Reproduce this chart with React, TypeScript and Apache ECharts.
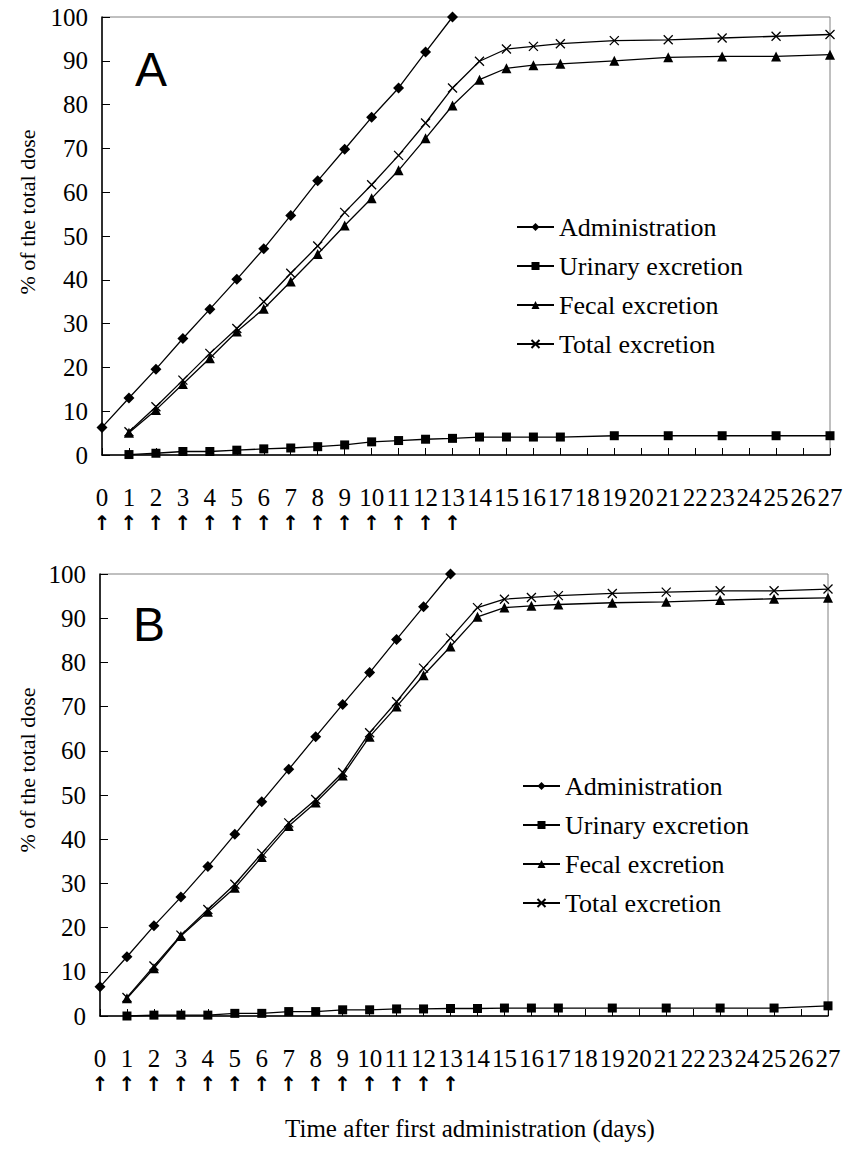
import React, { useEffect, useRef } from "react";
import * as echarts from "echarts";

// ---- data ----
const adminDays = [0, 1, 2, 3, 4, 5, 6, 7, 8, 9, 10, 11, 12, 13];
const excretionDays = [1, 2, 3, 4, 5, 6, 7, 8, 9, 10, 11, 12, 13, 14, 15, 16, 17, 19, 21, 23, 25, 27];
const doseDays = [0, 1, 2, 3, 4, 5, 6, 7, 8, 9, 10, 11, 12, 13];

const adminA = [6.3, 13.0, 19.6, 26.6, 33.3, 40.1, 47.1, 54.7, 62.6, 69.8, 77.1, 83.8, 92.0, 100];
const urinaryA = [0.1, 0.4, 0.8, 0.8, 1.1, 1.4, 1.6, 1.9, 2.3, 3.0, 3.3, 3.6, 3.8, 4.1, 4.1, 4.1, 4.1, 4.4, 4.4, 4.4, 4.4, 4.4];
const fecalA = [5.1, 10.3, 16.2, 22.1, 28.2, 33.4, 39.6, 45.9, 52.4, 58.6, 65.0, 72.3, 79.8, 85.7, 88.3, 89.0, 89.3, 90.0, 90.8, 91.0, 91.0, 91.4];
const totalA = [5.3, 11.0, 17.1, 23.2, 28.9, 35.0, 41.5, 47.7, 55.4, 61.7, 68.4, 75.8, 83.8, 89.9, 92.7, 93.3, 93.9, 94.6, 94.8, 95.2, 95.6, 96.0];

const adminB = [6.6, 13.4, 20.4, 26.9, 33.8, 41.1, 48.5, 55.8, 63.2, 70.5, 77.7, 85.2, 92.6, 100];
const urinaryB = [0.0, 0.2, 0.2, 0.2, 0.6, 0.6, 1.0, 1.0, 1.4, 1.4, 1.6, 1.6, 1.7, 1.7, 1.8, 1.8, 1.8, 1.8, 1.8, 1.8, 1.8, 2.3];
const fecalB = [4.0, 10.8, 18.1, 23.6, 29.0, 36.0, 43.0, 48.3, 54.4, 63.2, 70.0, 77.1, 83.6, 90.3, 92.4, 92.8, 93.1, 93.5, 93.7, 94.1, 94.4, 94.6];
const totalB = [4.2, 11.3, 18.3, 24.1, 29.8, 36.8, 43.7, 49.0, 55.1, 64.1, 71.1, 78.7, 85.5, 92.4, 94.3, 94.7, 95.1, 95.6, 95.9, 96.2, 96.2, 96.6];

const seriesNames = ["Administration", "Urinary excretion", "Fecal excretion", "Total excretion"];
const panelLetters = ["A", "B"];
const yTitle = "% of the total dose";
const xTitle = "Time after first administration (days)";

const SERIF = "'Liberation Serif', 'Times New Roman', serif";
const SANS = "'Liberation Sans', Arial, sans-serif";
const CROSS = "path://M0,0L10,10M10,0L0,10";

const pair = (xs: number[], ys: number[]) => xs.map((x, i) => [x, ys[i]]);

export default function App() {
  const ref = useRef<HTMLDivElement>(null);
  useEffect(() => {
    if (!ref.current) return;
    const chart = echarts.init(ref.current, null, { renderer: "svg" });

    const grids = [
      { left: 102, top: 17, width: 728, height: 438 },
      { left: 100, top: 574, width: 728, height: 442 },
    ];

    const xAxes: any[] = [];
    const yAxes: any[] = [];
    grids.forEach((_, gi) => {
      xAxes.push({
        type: "value",
        gridIndex: gi,
        min: 0,
        max: 27,
        interval: 1,
        axisLine: { show: true, onZero: false, lineStyle: { color: "#000", width: 1.5 } },
        axisTick: { show: true, inside: true, length: 7, lineStyle: { color: "#000", width: 1 } },
        axisLabel: { color: "#000", fontFamily: SERIF, fontSize: 25, margin: 30 },
        splitLine: { show: false },
      });
      xAxes.push({
        type: "value",
        gridIndex: gi,
        position: "bottom",
        min: 0,
        max: 27,
        interval: 1,
        axisLine: { show: false },
        axisTick: { show: false },
        axisLabel: {
          color: "#000",
          fontFamily: "'DejaVu Sans', sans-serif",
          fontWeight: "bold",
          fontSize: 20,
          margin: 58,
          formatter: (v: number) => (doseDays.indexOf(v) >= 0 ? "↑" : ""),
        },
        splitLine: { show: false },
      });
      yAxes.push({
        type: "value",
        gridIndex: gi,
        min: 0,
        max: 100,
        interval: 10,
        axisLine: { show: true, lineStyle: { color: "#000", width: 1.5 } },
        axisTick: { show: true, inside: true, length: 8, lineStyle: { color: "#000", width: 1 } },
        axisLabel: { color: "#000", fontFamily: SERIF, fontSize: 25, margin: 14 },
        splitLine: { show: false },
      });
    });

    const mk = (name: string, gi: number, data: number[][], symbol: string, size: number) => ({
      type: "line",
      name,
      xAxisIndex: gi * 2,
      yAxisIndex: gi,
      data,
      symbol,
      symbolSize: size,
      showSymbol: true,
      clip: false,
      lineStyle: { color: "#000", width: 1.3 },
      itemStyle: { color: "#000", borderColor: "#000", borderWidth: symbol === CROSS ? 1.3 : 0 },
      emphasis: { disabled: true },
    });

    const panels = [
      [adminA, urinaryA, fecalA, totalA],
      [adminB, urinaryB, fecalB, totalB],
    ];
    const series: any[] = [];
    panels.forEach((p, gi) => {
      series.push(mk(seriesNames[0], gi, pair(adminDays, p[0]), "diamond", 11));
      series.push(mk(seriesNames[1], gi, pair(excretionDays, p[1]), "rect", 9));
      series.push(mk(seriesNames[2], gi, pair(excretionDays, p[2]), "triangle", 10));
      series.push(mk(seriesNames[3], gi, pair(excretionDays, p[3]), CROSS, 9));
    });

    const legendCommon = {
      orient: "vertical",
      padding: 0,
      itemGap: 13,
      itemWidth: 37,
      itemHeight: 10,
      data: seriesNames,
      selectedMode: false,
      textStyle: { color: "#000", fontFamily: SERIF, fontSize: 26 },
    };

    const yTitleStyle = { text: yTitle, fill: "#000", font: "22px " + SERIF, align: "center", verticalAlign: "middle" };

    chart.setOption({
      animation: false,
      backgroundColor: "#fff",
      grid: grids.map((g) => ({ ...g, show: true, borderColor: "#808080", borderWidth: 1, backgroundColor: "transparent" })),
      xAxis: xAxes,
      yAxis: yAxes,
      legend: [
        { ...legendCommon, left: 516, top: 214 },
        { ...legendCommon, left: 522, top: 773 },
      ],
      series,
      graphic: [
        { type: "text", left: 135, top: 45, style: { text: panelLetters[0], fill: "#000", font: "48px " + SANS } },
        { type: "text", left: 133, top: 600, style: { text: panelLetters[1], fill: "#000", font: "48px " + SANS } },
        { type: "text", x: 27, y: 212, rotation: Math.PI / 2, style: yTitleStyle },
        { type: "text", x: 27, y: 770, rotation: Math.PI / 2, style: yTitleStyle },
        { type: "text", x: 470, y: 1128, style: { text: xTitle, fill: "#000", font: "25px " + SERIF, align: "center", verticalAlign: "middle" } },
      ],
    });
    return () => chart.dispose();
  }, []);
  return <div ref={ref} style={{ position: "absolute", left: 0, top: 0, width: 848, height: 1149 }} />;
}
